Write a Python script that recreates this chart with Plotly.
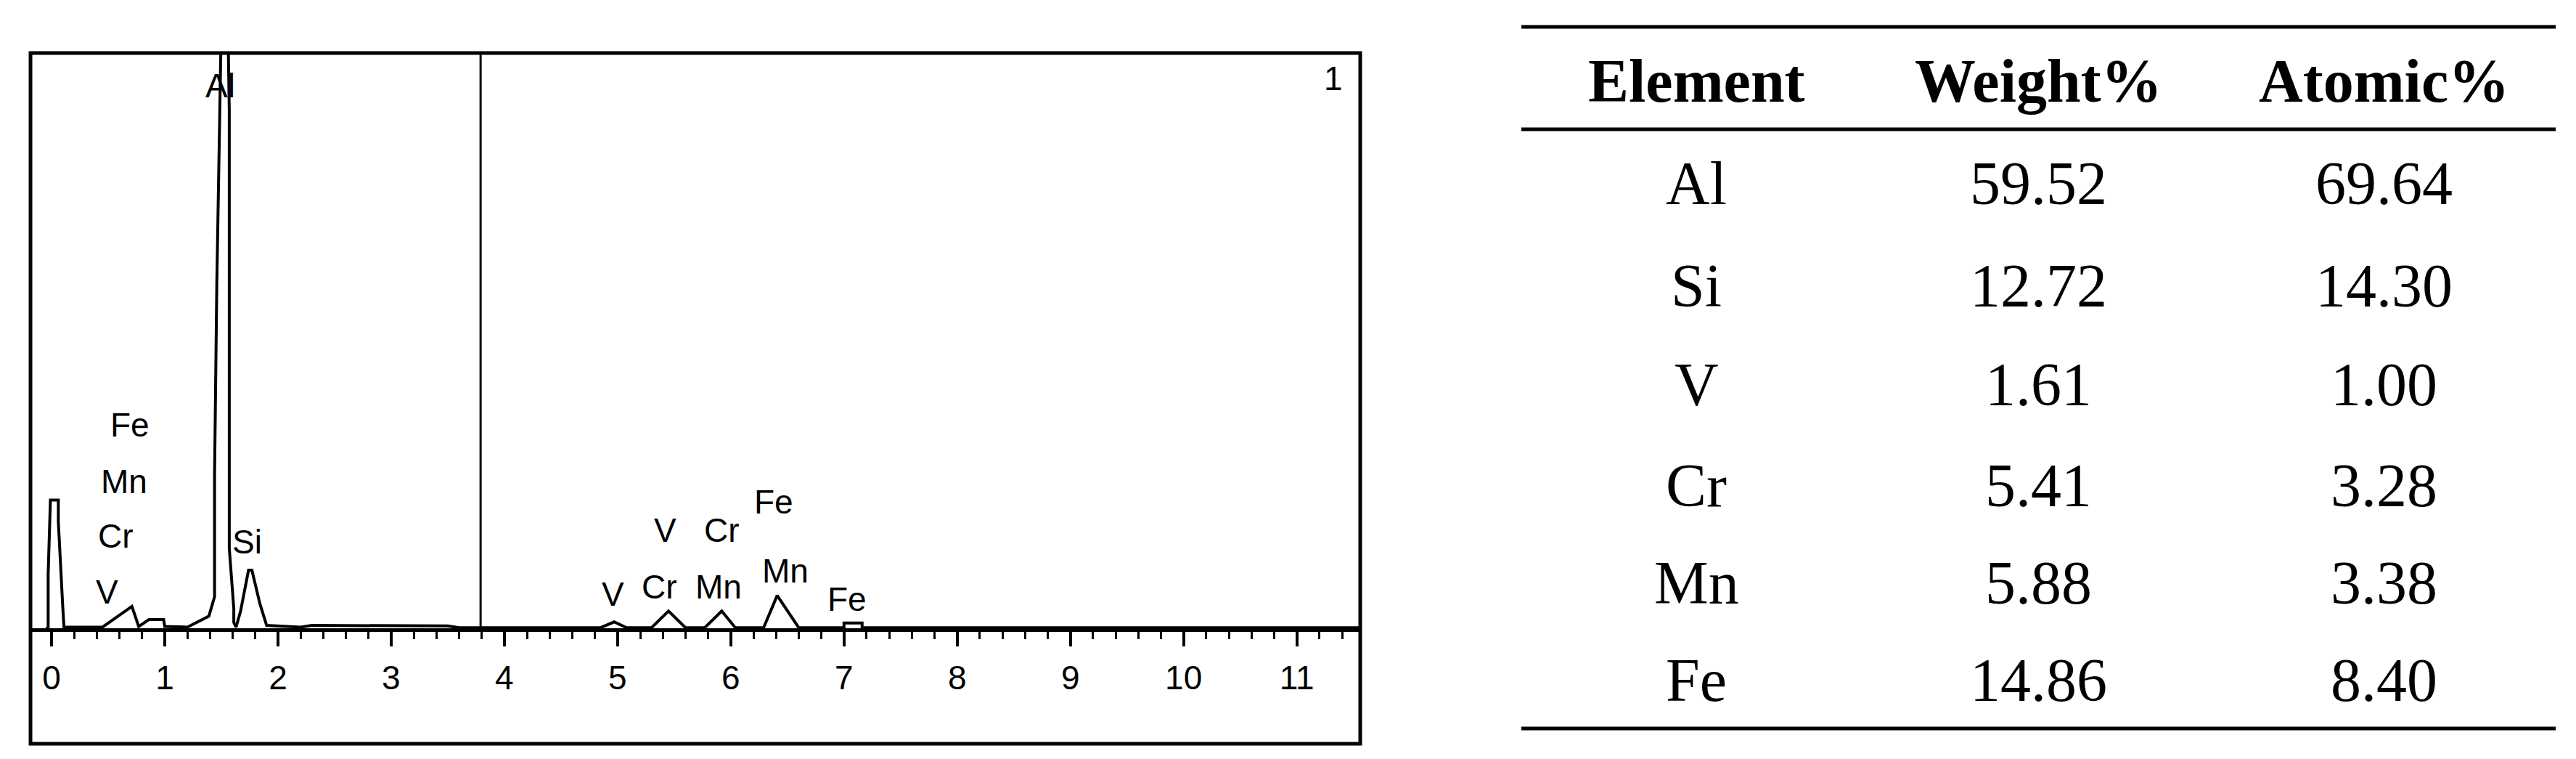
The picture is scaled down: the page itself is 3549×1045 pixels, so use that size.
import plotly.graph_objects as go

W, H = 3549, 1045

####################### Data #######################
energy = [-0.05, -0.03, -0.03, -0.01, 0.06, 0.06, 0.10, 0.11, 0.45, 0.71, 0.77, 0.86, 0.99, 1.0,
          1.2, 1.39, 1.44, 1.44, 1.46, 1.50, 1.53, 1.57, 1.57, 1.61, 1.61, 1.63, 1.67,
          1.74, 1.77, 1.84, 1.9, 2.2, 2.3, 3.5, 3.6, 4.85, 4.97, 5.08, 5.3, 5.45, 5.6,
          5.77, 5.92, 6.04, 6.29, 6.41, 6.6, 7.0, 7.0, 7.16, 7.16, 11.6]
counts = [0, 0, 9.3, 22.3, 22.3, 18.5, 3.4, 0.2, 0.2, 3.8, 0.3, 1.5, 1.5, 0.3,
          0.2, 2.1, 5.5, 26.5, 60, 140, 140, 90, 13.9, 3.4, 1.0, 0.2, 3,
          10.1, 10.1, 4.3, 0.5, 0.2, 0.5, 0.4, 0.1, 0.1, 1.1, 0.1, 0.1, 3.0, 0.1,
          0.1, 3.0, 0.1, 0.1, 5.7, 0.1, 0.1, 0.9, 0.9, 0.1, 0.1]

peak_labels = ['Fe', 'Mn', 'Cr', 'V', 'Al', 'Si', 'V', 'Cr', 'Mn', 'V', 'Cr', 'Fe', 'Mn', 'Fe']
peak_x = [0.69, 0.64, 0.57, 0.49, 1.49, 1.73, 4.96, 5.37, 5.89, 5.42, 5.92, 6.38, 6.48, 7.03]
peak_y = [35.4, 25.5, 16.0, 6.3, 94.3, 15.0, 5.9, 7.2, 7.2, 17.0, 17.0, 22.0, 10.0, 5.0]

elements = ['Al', 'Si', 'V', 'Cr', 'Mn', 'Fe']
weight_pct = ['59.52', '12.72', '1.61', '5.41', '5.88', '14.86']
atomic_pct = ['69.64', '14.30', '1.00', '3.28', '3.38', '8.40']
headers = ['Element', 'Weight%', 'Atomic%']

####################### Spectrum #######################
px_ = lambda x: x / W
py_ = lambda y: 1 - y / H
sans = dict(family='Liberation Sans', size=46, color='black')
serif = dict(family='Liberation Serif', size=84, color='black')

fig = go.Figure()
fig.add_trace(go.Scatter(x=energy, y=counts, mode='lines',
                         line=dict(color='black', width=4), showlegend=False))

for t, x, y in zip(peak_labels, peak_x, peak_y):
    fig.add_annotation(x=x, y=y, text=t, showarrow=False, xanchor='center', yanchor='middle', font=sans)

fig.add_annotation(x=11.32, y=95.6, text='1', showarrow=False, xanchor='center', yanchor='middle', font=sans)
fig.add_annotation(x=11.23, y=-15.6, text='keV', showarrow=False, xanchor='center', yanchor='middle', font=sans)

# marker line
fig.add_shape(type='line', xref='x', yref='y domain', x0=3.79, x1=3.79, y0=0, y1=1,
              line=dict(color='black', width=3))
# outer frame
fig.add_shape(type='rect', xref='paper', yref='paper', x0=px_(34), x1=px_(1866),
              y0=py_(1016), y1=py_(65), line=dict(color='black', width=5))

####################### Table #######################
col_x = [2329, 2800, 3276]
row_y = [244, 385, 521, 660, 794, 928]
for cx, h in zip(col_x, headers):
    fig.add_annotation(xref='paper', yref='paper', x=px_(cx), y=py_(103), text='<b>%s</b>' % h,
                       showarrow=False, xanchor='center', yanchor='middle', font=serif)
for i, ry in enumerate(row_y):
    for cx, v in zip(col_x, [elements[i], weight_pct[i], atomic_pct[i]]):
        fig.add_annotation(xref='paper', yref='paper', x=px_(cx), y=py_(ry), text=v,
                           showarrow=False, xanchor='center', yanchor='middle', font=serif)
for ly in [29, 170, 995]:
    fig.add_shape(type='line', xref='paper', yref='paper', x0=px_(2088), x1=px_(3513),
                  y0=py_(ly), y1=py_(ly), line=dict(color='black', width=5))

fig.update_layout(
    width=W, height=H,
    margin=dict(l=0, r=0, t=0, b=0),
    plot_bgcolor='white', paper_bgcolor='white',
    xaxis=dict(domain=[px_(34), px_(1866)], range=[-0.186, 11.56], showgrid=False, zeroline=False,
               showline=True, linecolor='black', linewidth=5,
               tickmode='linear', tick0=0, dtick=1, ticks='outside', ticklen=20, tickwidth=4,
               tickcolor='black', ticklabelstandoff=4,
               minor=dict(dtick=0.2, ticks='outside', ticklen=10, tickwidth=3, tickcolor='black'),
               tickfont=sans),
    yaxis=dict(domain=[py_(857), py_(65)], range=[0, 100], visible=False),
)

fig.write_html("out.html")
